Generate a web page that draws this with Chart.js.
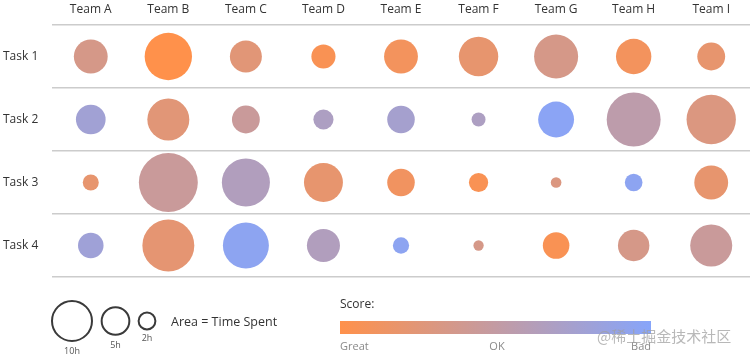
<!DOCTYPE html>
<html><head><meta charset="utf-8">
<script src="https://cdn.jsdelivr.net/npm/chart.js@4/dist/chart.umd.min.js"></script>
<style>html,body{margin:0;padding:0;background:#fff}</style>
</head><body>
<canvas id="c" width="750" height="357"></canvas>
<script>
const teams = ['Team A','Team B','Team C','Team D','Team E','Team F','Team G','Team H','Team I'];
const tasks = ['Task 1','Task 2','Task 3','Task 4'];
// hours spent (area = time)
const task1Hours = [6.5, 12.7, 5.8, 3.3, 6.5, 8.8, 11.0, 7.1, 4.4];
const task2Hours = [5.0, 10.0, 4.4, 2.3, 4.3, 1.1, 7.3, 16.5, 13.8];
const task3Hours = [1.45, 19.7, 13.1, 8.6, 4.3, 2.1, 0.64, 1.76, 6.5];
const task4Hours = [3.7, 15.3, 12.0, 6.2, 1.5, 0.6, 4.0, 5.6, 10.0];
// score: 0 = Great, 0.5 = OK, 1 = Bad
const task1Score = [0.35, 0.0, 0.25, 0.05, 0.1, 0.2, 0.35, 0.1, 0.2];
const task2Score = [0.78, 0.25, 0.45, 0.68, 0.75, 0.68, 0.97, 0.55, 0.3];
const task3Score = [0.2, 0.45, 0.65, 0.2, 0.12, 0.05, 0.3, 0.95, 0.2];
const task4Score = [0.8, 0.22, 0.95, 0.65, 0.95, 0.35, 0.05, 0.35, 0.45];
const legendHours = [10, 5, 2];
const legendHourLabels = ['10h', '5h', '2h'];
const scoreLabels = ['Great', 'OK', 'Bad'];

const hoursByTask = [task1Hours, task2Hours, task3Hours, task4Hours];
const scoreByTask = [task1Score, task2Score, task3Score, task4Score];

const K = 6.64; // px radius per sqrt(hour)
const C0 = [255, 145, 75], C1 = [135, 165, 250];
function scoreColor(s) {
  const c = C0.map((v, i) => Math.round(v + (C1[i] - v) * s));
  return `rgb(${c[0]},${c[1]},${c[2]})`;
}
const FONT = "'Open Sans', 'Noto Sans', sans-serif";

const legendPlugin = {
  id: 'customLegend',
  afterDraw(chart) {
    const ctx = chart.ctx;
    ctx.save();
    // size legend
    const cx = [72, 115.5, 147];
    const cy = 321;
    const ly = [351, 345, 338];
    ctx.strokeStyle = '#3a3a3a';
    ctx.lineWidth = 2;
    legendHours.forEach((h, i) => {
      const r = K * Math.sqrt(h) - 1;
      ctx.beginPath();
      ctx.arc(cx[i], cy, r, 0, Math.PI * 2);
      ctx.stroke();
      ctx.fillStyle = '#555';
      ctx.font = `9px ${FONT}`;
      ctx.textAlign = 'center';
      ctx.textBaseline = 'middle';
      ctx.fillText(legendHourLabels[i], cx[i], ly[i]);
    });
    ctx.fillStyle = '#333';
    ctx.font = `12.5px ${FONT}`;
    ctx.textAlign = 'left';
    ctx.textBaseline = 'middle';
    ctx.fillText('Area = Time Spent', 171, 322);
    // score legend
    ctx.font = `12px ${FONT}`;
    ctx.fillText('Score:', 340, 305);
    const g = ctx.createLinearGradient(340, 0, 651, 0);
    g.addColorStop(0, scoreColor(0));
    g.addColorStop(0.5, scoreColor(0.5));
    g.addColorStop(1, scoreColor(1));
    ctx.fillStyle = g;
    ctx.fillRect(340, 321, 311, 13);
    ctx.fillStyle = '#8a8a8a';
    ctx.font = `11px ${FONT}`;
    ctx.textAlign = 'left';
    ctx.fillText(scoreLabels[0], 340, 347);
    ctx.textAlign = 'center';
    ctx.fillText(scoreLabels[1], 497, 347);
    ctx.textAlign = 'right';
    ctx.fillText(scoreLabels[2], 651, 347);
    // watermark
    ctx.fillStyle = 'rgba(160,160,160,0.75)';
    ctx.font = `15px 'Noto Sans CJK SC', sans-serif`;
    ctx.textAlign = 'left';
    ctx.fillText('@稀土掘金技术社区', 597, 336);
    ctx.restore();
  }
};

new Chart(document.getElementById('c'), {
  type: 'bubble',
  data: {
    datasets: tasks.map((t, i) => ({
      label: t,
      data: teams.map((team, j) => ({ x: team, y: t, r: K * Math.sqrt(hoursByTask[i][j]) })),
      backgroundColor: teams.map((_, j) => scoreColor(scoreByTask[i][j])),
      borderWidth: 0,
      hoverRadius: 0,
      clip: false
    }))
  },
  options: {
    responsive: false,
    animation: false,
    devicePixelRatio: 1,
    layout: { autoPadding: false, padding: { top: 0, left: 3, right: 0, bottom: 80 } },
    plugins: { legend: { display: false }, tooltip: { enabled: false } },
    scales: {
      x: {
        type: 'category', labels: teams, position: 'top', offset: true,
        grid: { display: false, drawTicks: false },
        border: { display: false },
        ticks: { font: { family: FONT, size: 12 }, color: '#333', padding: 8, maxRotation: 0 },
        afterFit(s) { s.height = 25; }
      },
      y: {
        type: 'category', labels: tasks, offset: true,
        grid: { color: '#cccccc', lineWidth: 1.5, drawTicks: false, offset: true },
        border: { display: false },
        ticks: { font: { family: FONT, size: 12 }, color: '#333', crossAlign: 'far', padding: 3 },
        afterFit(s) { s.width = 49; }
      }
    }
  },
  plugins: [legendPlugin]
});
</script>
</body></html>
